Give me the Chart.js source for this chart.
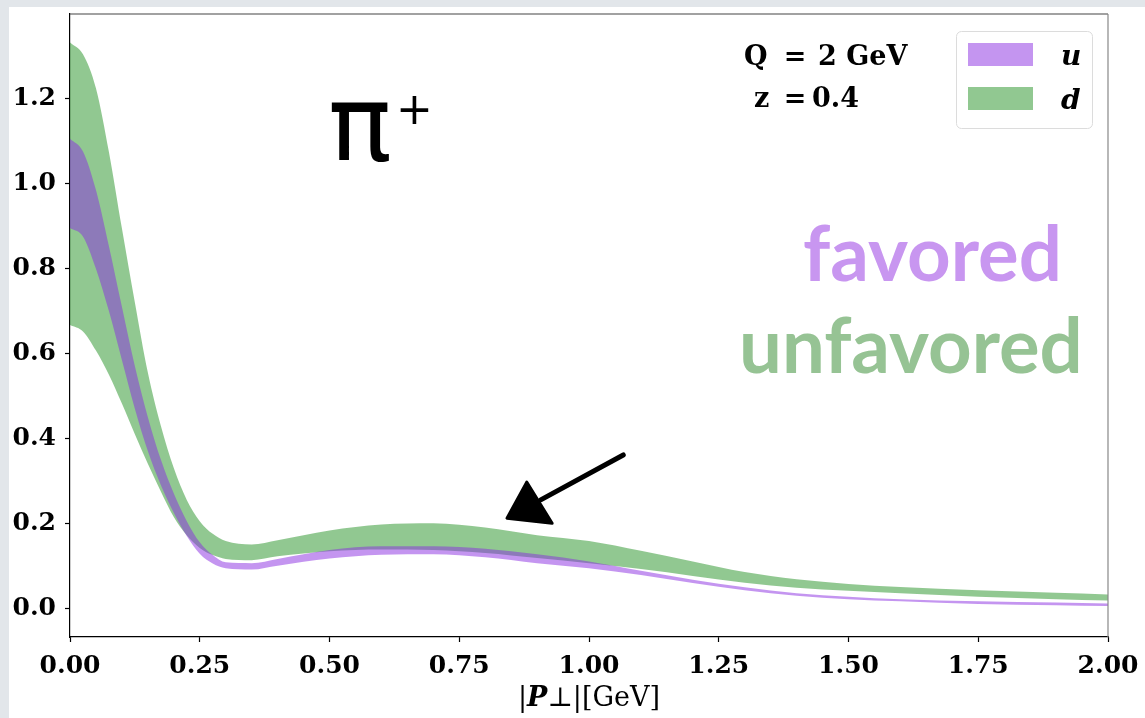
<!DOCTYPE html>
<html>
<head>
<meta charset="utf-8">
<script src="https://cdn.jsdelivr.net/npm/chart.js@4.4.0/dist/chart.umd.min.js"></script>
<style>
  html, body { margin: 0; padding: 0; background: #e3e7eb; }
  #wrap { width: 1145px; height: 718px; }
</style>
</head>
<body>
<div id="wrap"><canvas id="chart" width="1145" height="718"></canvas></div>
<script>
// |P_perp| grid in GeV
const pPerp = [0, 0.025, 0.05, 0.075, 0.1, 0.125, 0.15, 0.175, 0.2, 0.225, 0.25, 0.275, 0.3, 0.35, 0.4,
               0.5, 0.6, 0.7, 0.8, 0.9, 1.0, 1.1, 1.2, 1.3, 1.4, 1.5, 1.6, 1.75, 1.9, 2.0];

// u band (favored)
const uHigh = [1.106, 1.076, 0.985, 0.853, 0.71, 0.57, 0.45, 0.35, 0.27, 0.205, 0.155, 0.125, 0.108, 0.106, 0.116,
               0.137, 0.146, 0.146, 0.140, 0.127, 0.110, 0.088, 0.067, 0.049, 0.035, 0.027, 0.021, 0.016, 0.013, 0.011];
const uLow  = [0.896, 0.876, 0.80, 0.70, 0.585, 0.47, 0.37, 0.29, 0.225, 0.17, 0.128, 0.105, 0.094, 0.091, 0.100,
               0.117, 0.126, 0.127, 0.120, 0.106, 0.094, 0.078, 0.059, 0.042, 0.029, 0.021, 0.016, 0.010, 0.007, 0.005];

// d band (unfavored)
const dHigh = [1.333, 1.305, 1.225, 1.075, 0.895, 0.72, 0.555, 0.43, 0.33, 0.255, 0.205, 0.175, 0.158, 0.150, 0.160,
               0.183, 0.197, 0.200, 0.190, 0.172, 0.158, 0.135, 0.110, 0.085, 0.068, 0.057, 0.050, 0.042, 0.036, 0.032];
const dLow  = [0.667, 0.652, 0.607, 0.55, 0.482, 0.41, 0.34, 0.275, 0.215, 0.172, 0.142, 0.125, 0.116, 0.113, 0.122,
               0.134, 0.138, 0.137, 0.130, 0.118, 0.106, 0.092, 0.076, 0.060, 0.048, 0.041, 0.035, 0.027, 0.021, 0.018];

const xTicks = [0, 0.25, 0.5, 0.75, 1.0, 1.25, 1.5, 1.75, 2.0];
const yTicks = [0, 0.2, 0.4, 0.6, 0.8, 1.0, 1.2];
const bandLabels = ["u", "d"];

const U_FILL = "rgba(138,43,226,0.5)";
const D_FILL = "rgba(0,128,0,0.43)";
const TICK_FONT = { family: "DejaVu Serif", size: 25, weight: "bold" };

function pts(arr) {
    return pPerp.map((x, i) => ({ x: x, y: arr[i] }));
}

function band(label, arr, fillColor) {
    return {
        label: label,
        data: pts(arr),
        fill: fillColor ? "+1" : false,
        backgroundColor: fillColor || "transparent",
        borderColor: "transparent",
        borderWidth: 0,
        pointRadius: 0,
        cubicInterpolationMode: "monotone"
    };
}

const backdrop = {
    id: "backdrop",
    beforeDraw(chart) {
        const ctx = chart.ctx;
        ctx.save();
        ctx.fillStyle = "#e2e6ea";
        ctx.fillRect(0, 0, chart.width, chart.height);
        ctx.fillStyle = "#ffffff";
        ctx.fillRect(9, 7, chart.width - 9, chart.height - 7);
        ctx.restore();
    }
};

const extras = {
    id: "extras",
    afterDraw(chart) {
        const ctx = chart.ctx;
        const a = chart.chartArea;
        const xs = chart.scales.x, ys = chart.scales.y;
        ctx.save();

        // top and right spines
        ctx.lineWidth = 1.2;
        ctx.strokeStyle = "#444";
        ctx.beginPath();
        ctx.moveTo(a.left, a.top);
        ctx.lineTo(a.right, a.top);
        ctx.stroke();
        ctx.strokeStyle = "#888";
        ctx.beginPath();
        ctx.moveTo(a.right, a.top);
        ctx.lineTo(a.right, a.bottom);
        ctx.stroke();

        // pi+ label
        ctx.fillStyle = "#000";
        ctx.textAlign = "left";
        ctx.textBaseline = "alphabetic";
        ctx.font = '106px "DejaVu Sans"';
        ctx.fillText("π", 328, 160);
        ctx.font = '44px "DejaVu Sans"';
        ctx.fillText("+", 396, 124);

        // favored / unfavored
        function fitText(txt, left, right, base, color) {
            ctx.font = 'bold 100px Lato';
            const w = ctx.measureText(txt).width;
            const size = 100 * (right - left) / w;
            ctx.font = 'bold ' + size.toFixed(1) + 'px Lato';
            ctx.fillStyle = color;
            ctx.fillText(txt, left, base);
        }
        fitText("favored", 803, 1062, 281, "#c896f0");
        fitText("unfavored", 739, 1083, 373, "#96c394");

        // Q and z
        ctx.fillStyle = "#000";
        ctx.font = 'bold 27px "DejaVu Serif"';
        ctx.textAlign = "left";
        ctx.fillText("Q", 744, 65);
        ctx.fillText("2 GeV", 818, 65);
        ctx.fillText("z", 754, 107);
        ctx.fillText("0.4", 812, 107);
        ctx.textAlign = "center";
        ctx.fillText("=", 795, 65);
        ctx.fillText("=", 795, 107);

        // legend box
        ctx.beginPath();
        ctx.roundRect(956.5, 31.5, 136, 97, 5);
        ctx.fillStyle = "rgba(255,255,255,0.8)";
        ctx.fill();
        ctx.strokeStyle = "#dcdcdc";
        ctx.lineWidth = 1;
        ctx.stroke();
        const fills = [U_FILL, D_FILL];
        const rows = [43, 87];
        ctx.font = 'italic bold 28px "DejaVu Serif"';
        ctx.textAlign = "left";
        bandLabels.forEach((lab, i) => {
            ctx.fillStyle = fills[i];
            ctx.fillRect(968, rows[i], 65, 23);
            ctx.fillStyle = "#000";
            ctx.fillText(lab, 1061, rows[i] + 22);
        });

        // hand-drawn style arrow, placed in data coordinates
        const P = (x, y) => [xs.getPixelForValue(x), ys.getPixelForValue(y)];
        const tail = P(1.066, 0.361), neck = P(0.907, 0.255);
        const h1 = P(0.880, 0.297), h2 = P(0.842, 0.212), h3 = P(0.929, 0.200);
        ctx.strokeStyle = "#000";
        ctx.lineWidth = 5;
        ctx.lineCap = "round";
        ctx.beginPath();
        ctx.moveTo(tail[0], tail[1]);
        ctx.lineTo(neck[0], neck[1]);
        ctx.stroke();
        ctx.fillStyle = "#000";
        ctx.lineJoin = "round";
        ctx.lineWidth = 3;
        ctx.beginPath();
        ctx.moveTo(h1[0], h1[1]);
        ctx.lineTo(h2[0], h2[1]);
        ctx.lineTo(h3[0], h3[1]);
        ctx.closePath();
        ctx.fill();
        ctx.stroke();

        // x axis title |P_perp|[GeV]
        const parts = [
            ["|", '27px "DejaVu Serif"'],
            ["P", 'italic bold 27px "DejaVu Serif"'],
            ["⊥", '27px "DejaVu Serif"'],
            ["|[GeV]", '27px "DejaVu Serif"']
        ];
        let total = 0;
        parts.forEach(p => { ctx.font = p[1]; total += ctx.measureText(p[0]).width; });
        let cx = (a.left + a.right) / 2 - total / 2;
        ctx.textAlign = "left";
        ctx.fillStyle = "#000";
        parts.forEach(p => {
            ctx.font = p[1];
            ctx.fillText(p[0], cx, 706);
            cx += ctx.measureText(p[0]).width;
        });

        ctx.restore();
    }
};

new Chart(document.getElementById("chart"), {
    type: "line",
    data: {
        datasets: [
            band(bandLabels[0], uHigh, U_FILL),
            band("u_low", uLow, null),
            band(bandLabels[1], dHigh, D_FILL),
            band("d_low", dLow, null)
        ]
    },
    options: {
        responsive: false,
        animation: false,
        events: [],
        layout: { padding: { top: 14, right: 37, left: 0, bottom: 0 } },
        plugins: {
            legend: { display: false },
            tooltip: { enabled: false },
            filler: { propagate: false }
        },
        scales: {
            x: {
                type: "linear",
                min: 0,
                max: 2,
                afterBuildTicks: s => { s.ticks = xTicks.map(v => ({ value: v })); },
                afterFit: s => { s.height = 81; s.paddingLeft = 0; s.paddingRight = 0; },
                ticks: {
                    callback: v => Number(v).toFixed(2),
                    font: TICK_FONT,
                    color: "#000",
                    padding: 9,
                    maxRotation: 0,
                    autoSkip: false
                },
                grid: { display: true, drawOnChartArea: false, drawTicks: true, tickLength: 5, tickColor: "#000", tickWidth: 1.2 },
                border: { display: true, color: "#000", width: 1.2 }
            },
            y: {
                type: "linear",
                min: -0.068,
                max: 1.4,
                afterBuildTicks: s => { s.ticks = yTicks.map(v => ({ value: v })); },
                afterFit: s => { s.width = 70; s.paddingTop = 0; s.paddingBottom = 0; },
                ticks: {
                    callback: v => Number(v).toFixed(1),
                    font: TICK_FONT,
                    color: "#000",
                    padding: 9,
                    autoSkip: false
                },
                grid: { display: true, drawOnChartArea: false, drawTicks: true, tickLength: 5, tickColor: "#000", tickWidth: 1.2 },
                border: { display: true, color: "#000", width: 1.2 }
            }
        }
    },
    plugins: [backdrop, extras]
});
</script>
</body>
</html>
